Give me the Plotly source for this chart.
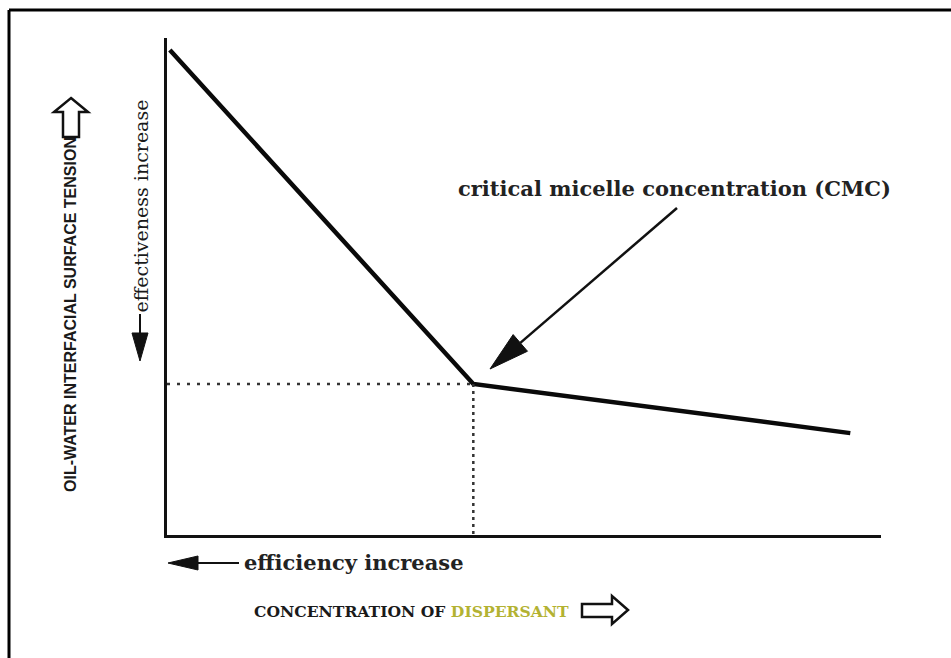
import math
import plotly.graph_objects as go

# ---- data (arbitrary units) ----
concentration = [0.04, 4.29, 9.57]
surface_tension = [9.76, 3.04, 2.05]
cmc_x = 4.29
cmc_y = 3.04

x_range = [0, 10]
y_range = [0, 10]

# ---- figure geometry (pixels) ----
W, H = 951, 658
L, R, T, B = 167, 881, 38, 535


def px(x):
    return (x - L) / (R - L)


def py(y):
    return (B - y) / (B - T)


def poly(points):
    return "M " + " L ".join(f"{px(x):.5f},{py(y):.5f}" for x, y in points) + " Z"


fig = go.Figure()

fig.add_trace(go.Scatter(
    x=concentration, y=surface_tension, mode="lines",
    line=dict(color="#0a0a0a", width=4.5), hoverinfo="skip", showlegend=False))

fig.add_trace(go.Scatter(
    x=[x_range[0], cmc_x], y=[cmc_y, cmc_y], mode="lines",
    line=dict(color="#333", width=2.5, dash="3px,7px"), hoverinfo="skip", showlegend=False))
fig.add_trace(go.Scatter(
    x=[cmc_x, cmc_x], y=[cmc_y, y_range[0]], mode="lines",
    line=dict(color="#333", width=2.5, dash="3px,4px"), hoverinfo="skip", showlegend=False))

shapes = []
# outer frame (top and left edges visible)
shapes.append(dict(type="line", xref="paper", yref="paper", x0=px(9), y0=py(10), x1=px(960), y1=py(10),
                   line=dict(color="#000", width=3)))
shapes.append(dict(type="line", xref="paper", yref="paper", x0=px(9), y0=py(10), x1=px(9), y1=py(670),
                   line=dict(color="#000", width=3)))

# CMC arrow: line + elongated filled head
tail = (677, 208)
tip = (490, 369)
dx, dy = tip[0] - tail[0], tip[1] - tail[1]
ln = math.hypot(dx, dy)
ux, uy = dx / ln, dy / ln
nx, ny = -uy, ux
hl, hw = 40, 11
bx, by = tip[0] - hl * ux, tip[1] - hl * uy
shapes.append(dict(type="line", xref="paper", yref="paper", x0=px(tail[0]), y0=py(tail[1]),
                   x1=px(bx), y1=py(by), line=dict(color="#111", width=2.5)))
shapes.append(dict(type="path", xref="paper", yref="paper",
                   path=poly([tip, (bx + hw * nx, by + hw * ny), (bx - hw * nx, by - hw * ny)]),
                   fillcolor="#111", line=dict(color="#111", width=1)))

# efficiency arrow (filled, pointing left)
shapes.append(dict(type="line", xref="paper", yref="paper", x0=px(196), y0=py(563), x1=px(239), y1=py(563),
                   line=dict(color="#111", width=2)))
shapes.append(dict(type="path", xref="paper", yref="paper",
                   path=poly([(168, 563), (198, 556), (198, 570)]),
                   fillcolor="#111", line=dict(color="#111", width=1)))

# effectiveness arrow (filled, pointing down)
shapes.append(dict(type="line", xref="paper", yref="paper", x0=px(140), y0=py(314), x1=px(140), y1=py(336),
                   line=dict(color="#111", width=2)))
shapes.append(dict(type="path", xref="paper", yref="paper",
                   path=poly([(140, 361), (132, 333), (148, 333)]),
                   fillcolor="#111", line=dict(color="#111", width=1)))

# hollow arrow up (y title)
shapes.append(dict(type="path", xref="paper", yref="paper",
                   path=poly([(71, 98), (88, 112), (79, 112), (79, 137), (63, 137), (63, 112), (54, 112)]),
                   fillcolor="rgba(0,0,0,0)", line=dict(color="#111", width=2.5)))

# hollow arrow right (x title)
shapes.append(dict(type="path", xref="paper", yref="paper",
                   path=poly([(628, 610), (612, 596), (612, 604), (582, 604), (582, 617), (612, 617), (612, 624)]),
                   fillcolor="rgba(0,0,0,0)", line=dict(color="#111", width=2.5)))

annotations = [
    dict(text="<b>critical micelle concentration (CMC)</b>", xref="paper", yref="paper",
         x=px(674), y=py(188), showarrow=False, xanchor="center", yanchor="middle",
         font=dict(family="DejaVu Serif", size=21, color="#222")),
    dict(text="<b>efficiency increase</b>", xref="paper", yref="paper",
         x=px(242), y=py(562), showarrow=False, xanchor="left", yanchor="middle",
         font=dict(family="DejaVu Serif", size=21, color="#222")),
    dict(text="effectiveness increase", xref="paper", yref="paper",
         x=px(140), y=py(315), showarrow=False, xanchor="center", yanchor="bottom",
         textangle=-90, font=dict(family="DejaVu Serif", size=19, color="#1a1a1a")),
    dict(text="<b>OIL-WATER INTERFACIAL SURFACE TENSION</b>", xref="paper", yref="paper",
         x=px(70), y=py(315), showarrow=False, xanchor="center", yanchor="middle",
         textangle=-90, font=dict(family="Liberation Sans Narrow, Liberation Sans", size=16, color="#1a1a1a")),
    dict(text="<b>CONCENTRATION OF <span style='color:#b3b232'>DISPERSANT</span></b>",
         xref="paper", yref="paper", x=px(252), y=py(611), showarrow=False,
         xanchor="left", yanchor="middle",
         font=dict(family="DejaVu Serif", size=15.6, color="#1a1a1a")),
]

fig.update_layout(
    width=W, height=H, autosize=False,
    margin=dict(l=L, r=W - R, t=T, b=H - B, pad=0),
    paper_bgcolor="white", plot_bgcolor="white",
    shapes=shapes, annotations=annotations,
    xaxis=dict(range=x_range, showline=True, linecolor="#111", linewidth=2.5,
               showgrid=False, zeroline=False, showticklabels=False, ticks="", fixedrange=True),
    yaxis=dict(range=y_range, showline=True, linecolor="#111", linewidth=2.5,
               showgrid=False, zeroline=False, showticklabels=False, ticks="", fixedrange=True),
)

fig.write_html("out.html", config={"displayModeBar": False},
               post_script="document.body.style.margin='0';document.body.style.overflow='hidden';")
